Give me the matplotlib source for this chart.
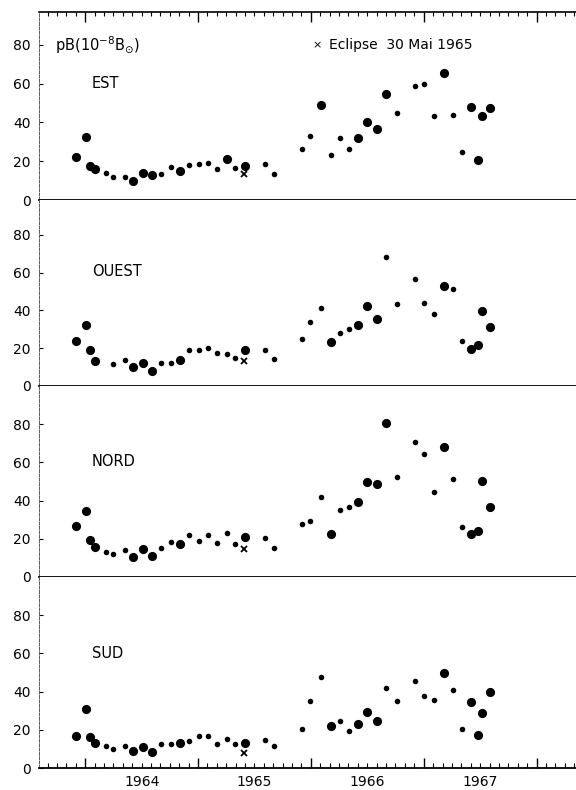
import numpy as np
import matplotlib
matplotlib.use('Agg')
import matplotlib.pyplot as plt

# observation dates (decimal years), shared by the four limb positions
dates = [1963.92, 1964.01, 1964.04, 1964.09, 1964.18, 1964.25, 1964.35, 1964.42, 1964.51, 1964.59, 1964.67,
         1964.76, 1964.84, 1964.92, 1965.01, 1965.09, 1965.17, 1965.26, 1965.33, 1965.42, 1965.59, 1965.67,
         1965.92, 1965.99, 1966.09, 1966.18, 1966.26, 1966.34, 1966.42, 1966.50, 1966.59, 1966.67, 1966.76,
         1966.92, 1967.00, 1967.09, 1967.18, 1967.26, 1967.34, 1967.42, 1967.48, 1967.52, 1967.59]

est_pb = [22.0, 32.3, 17.7, 16.0, 14.1, 11.7, 12.0, 10.0, 13.7, 12.9, 13.4, 16.8, 15.0, 17.9, 18.6, 19.1,
          15.8, 21.3, 16.3, 17.5, 18.4, 13.4,
          26.3, 33.0, 48.8, 23.4, 32.0, 26.3, 32.1, 40.0, 36.8, 54.6, 44.8, 58.6, 59.8, 43.5, 65.3, 43.6,
          24.6, 47.8, 20.8, 43.1, 47.4]
est_big = [1, 1, 1, 1, 0, 0, 0, 1, 1, 1, 0, 0, 1, 0, 0, 0, 0, 1, 0, 1, 0, 0,
           0, 0, 1, 0, 0, 0, 1, 1, 1, 1, 0, 0, 0, 0, 1, 0, 0, 1, 1, 1, 1]

ouest_pb = [23.6, 32.3, 18.9, 13.1, np.nan, 11.8, 13.8, 9.9, 12.3, 8.1, 12.2, 12.3, 13.6, 19.0, 19.2, 19.9,
            17.5, 16.9, 15.0, 18.9, 19.0, 14.1,
            24.7, 34.0, 41.3, 23.4, 28.0, 30.3, 32.1, 42.5, 35.3, 68.3, 43.5, 56.6, 43.9, 38.3, 52.9, 51.2,
            23.8, 19.6, 21.9, 39.7, 31.0]
ouest_big = [1, 1, 1, 1, 0, 0, 0, 1, 1, 1, 0, 0, 1, 0, 0, 0, 0, 0, 0, 1, 0, 0,
             0, 0, 0, 1, 0, 0, 1, 1, 1, 0, 0, 0, 0, 0, 1, 0, 0, 1, 1, 1, 1]

nord_pb = [26.5, 34.7, 19.4, 15.9, 12.9, 11.9, 14.1, 10.6, 14.5, 11.0, 15.0, 18.3, 17.3, 22.1, 18.8, 21.8,
           18.0, 22.9, 17.1, 20.9, 20.6, 15.0,
           27.9, 29.3, 41.7, 22.5, 34.9, 36.6, 39.3, 49.7, 48.8, 80.5, 52.2, 70.7, 64.2, 44.7, 67.9, 51.2,
           26.0, 22.5, 23.9, 50.4, 36.8]
nord_big = [1, 1, 1, 1, 0, 0, 0, 1, 1, 1, 0, 0, 1, 0, 0, 0, 0, 0, 0, 1, 0, 0,
            0, 0, 0, 1, 0, 0, 1, 1, 1, 1, 0, 0, 0, 0, 1, 0, 0, 1, 1, 1, 1]

sud_pb = [16.9, 31.0, 16.2, 12.9, 11.5, 10.1, 11.4, 8.7, 11.2, 8.5, 12.4, 12.4, 12.9, 14.3, 16.6, 16.8,
          12.4, 15.0, 12.4, 12.9, 14.7, 11.7,
          20.6, 35.2, 47.8, 22.0, 24.8, 19.5, 23.2, 29.3, 24.6, 41.9, 35.1, 45.5, 37.9, 35.6, 49.7, 41.0,
          20.3, 34.7, 17.3, 28.8, 40.0]
sud_big = [1, 1, 1, 1, 0, 0, 0, 1, 1, 1, 0, 0, 1, 0, 0, 0, 0, 0, 0, 1, 0, 0,
           0, 0, 0, 1, 0, 0, 1, 1, 1, 0, 0, 0, 0, 0, 1, 0, 0, 1, 1, 1, 1]

eclipse_date = 1965.41
eclipse_pb = [13.2, 13.2, 14.8, 8.0]

panel_names = ['EST', 'OUEST', 'NORD', 'SUD']
year_labels = [1964, 1965, 1966, 1967]

series = [(est_pb, est_big), (ouest_pb, ouest_big), (nord_pb, nord_big), (sud_pb, sud_big)]

W, H = 576, 790
fig = plt.figure(figsize=(W / 100, H / 100), dpi=100)

left = 39
tops = [12, 200, 386, 577]
bots = [200, 386, 577, 768]
ytop = [97, 98.4, 100, 100]
label_y = [84, 272, 462, 653]
xmin, xmax = 1963.59, 1968.35
months = np.arange(1963 + 8 / 12, xmax, 1 / 12)
year_ticks = [1964, 1965, 1966, 1967, 1968]

d = np.array(dates)
for i in range(4):
    ax = fig.add_axes([left / W, 1 - bots[i] / H, (W - left) / W, (bots[i] - tops[i]) / H])
    pb, big = series[i]
    pb = np.array(pb)
    big = np.array(big, dtype=bool)
    ax.plot(d[big], pb[big], 'o', color='black', ms=6.6, mew=0)
    ax.plot(d[~big], pb[~big], 'o', color='black', ms=4.0, mew=0)
    ax.plot([eclipse_date], [eclipse_pb[i]], 'x', color='black', ms=4, mew=1.3)

    ax.set_xlim(xmin, xmax)
    ax.set_ylim(0, ytop[i])
    ax.set_yticks([0, 20, 40, 60, 80])
    ax.tick_params(axis='y', direction='in', length=3, width=0.8, pad=6, labelsize=10)

    ax.spines['right'].set_visible(False)
    ax.spines['left'].set_linestyle((0, (3, 1.5)))
    ax.spines['left'].set_linewidth(0.7)
    ax.spines['left'].set_color('0.35')
    ax.spines['bottom'].set_linewidth(1.3)
    ax.spines['top'].set_visible(i == 0)
    ax.spines['top'].set_linewidth(1.2)

    ax.set_xticks(year_ticks)
    ax.set_xticks(months, minor=True)
    ax.set_xticklabels([])
    if i == 0:
        ax.tick_params(axis='x', which='both', bottom=False, top=True, direction='in')
        ax.tick_params(axis='x', which='major', length=7, width=1)
        ax.tick_params(axis='x', which='minor', length=3, width=0.8)
    elif i == 3:
        ax.tick_params(axis='x', which='major', direction='in', length=7, width=1)
        ax.tick_params(axis='x', which='minor', direction='in', length=3.5, width=0.8)
        for y in year_labels:
            ax.text(y + 0.5, -0.035, str(y), transform=ax.get_xaxis_transform(),
                    ha='center', va='top', fontsize=10)
    else:
        ax.tick_params(axis='x', which='both', bottom=False, top=False)

    ax.text(92 / W, 1 - label_y[i] / H, panel_names[i], transform=fig.transFigure,
            ha='left', va='center', fontsize=10.5)
    if i == 0:
        ax.text(55 / W, 1 - 45 / H, r'pB(10$^{-8}$B$_{\odot}$)', transform=fig.transFigure,
                ha='left', va='center', fontsize=10.5)
        ax.text(312 / W, 1 - 45 / H, '×', transform=fig.transFigure,
                ha='left', va='center', fontsize=8)
        ax.text(329 / W, 1 - 45 / H, 'Eclipse  30 Mai 1965', transform=fig.transFigure,
                ha='left', va='center', fontsize=10)

fig.savefig('out.png', dpi=100)
